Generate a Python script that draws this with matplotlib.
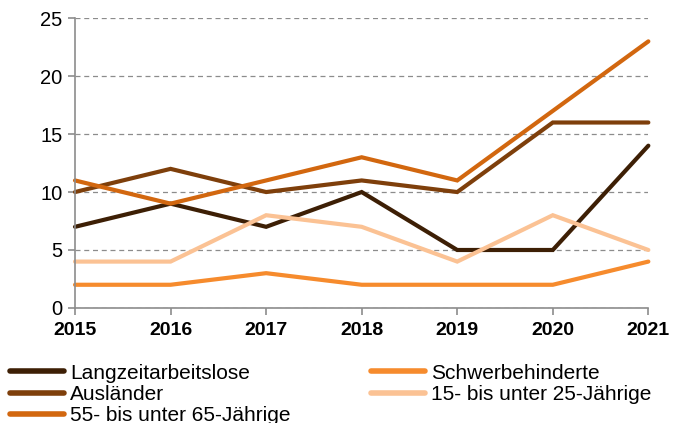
import matplotlib
matplotlib.use("Agg")
from matplotlib import pyplot as plt

plt.rcParams['font.family'] = ['Liberation Sans', 'DejaVu Sans']

# daten
jahre = ["2015", "2016", "2017", "2018", "2019", "2020", "2021"]
langzeit = [7, 9, 7, 10, 5, 5, 14]
schwerbeh = [2, 2, 3, 2, 2, 2, 4]
auslaender = [10, 12, 10, 11, 10, 16, 16]
jung = [4, 4, 8, 7, 4, 8, 5]
alt = [11, 9, 11, 13, 11, 17, 23]

fig = plt.figure(figsize=(6.85, 4.23), dpi=100)
ax = fig.add_axes([0.1095, 0.272, 0.837, 0.685])

x = range(len(jahre))
lw = 3.0
l1, = ax.plot(x, langzeit, color="#3d1f05", lw=lw, label="Langzeitarbeitslose")
l2, = ax.plot(x, schwerbeh, color="#f68b2d", lw=lw, label="Schwerbehinderte")
l3, = ax.plot(x, auslaender, color="#7e3f0b", lw=lw, label="Ausländer")
l4, = ax.plot(x, jung, color="#fbc294", lw=lw, label="15- bis unter 25-Jährige")
l5, = ax.plot(x, alt, color="#d2670f", lw=lw, label="55- bis unter 65-Jährige")

ax.set_xlim(0, len(jahre) - 1)
ax.set_ylim(0, 25)
ax.set_xticks(list(x))
ax.set_xticklabels(jahre, fontweight="bold", fontsize=14)
ax.set_yticks([0, 5, 10, 15, 20, 25])
ax.tick_params(axis="y", labelsize=14.5, color="#8c8c8c", length=5, width=1.2, pad=4)
ax.tick_params(axis="x", color="#8c8c8c", length=5, width=1.2, pad=5)

for s in ["top", "right"]:
    ax.spines[s].set_visible(False)
for s in ["left", "bottom"]:
    ax.spines[s].set_color("#8c8c8c")
    ax.spines[s].set_linewidth(1.2)

ax.yaxis.grid(True, linestyle=(0, (4, 3)), color="#8c8c8c", lw=0.9)
ax.set_axisbelow(True)
for ln in ax.lines:
    ln.set_clip_on(False)
    ln.set_solid_capstyle("round")
    ln.set_solid_joinstyle("miter")

# legende
handles = [l1, l3, l5, l2, l4]
leg = fig.legend(handles, [h.get_label() for h in handles], ncol=2,
                 loc="upper left", bbox_to_anchor=(0.014, 0.14),
                 frameon=False, fontsize=15, handlelength=2.6,
                 handletextpad=0.3, columnspacing=3.85, labelspacing=0.1,
                 borderaxespad=0, borderpad=0)
for h in leg.legend_handles:
    h.set_linewidth(4)
    h.set_solid_capstyle("round")

fig.savefig("out.png", dpi=100)
